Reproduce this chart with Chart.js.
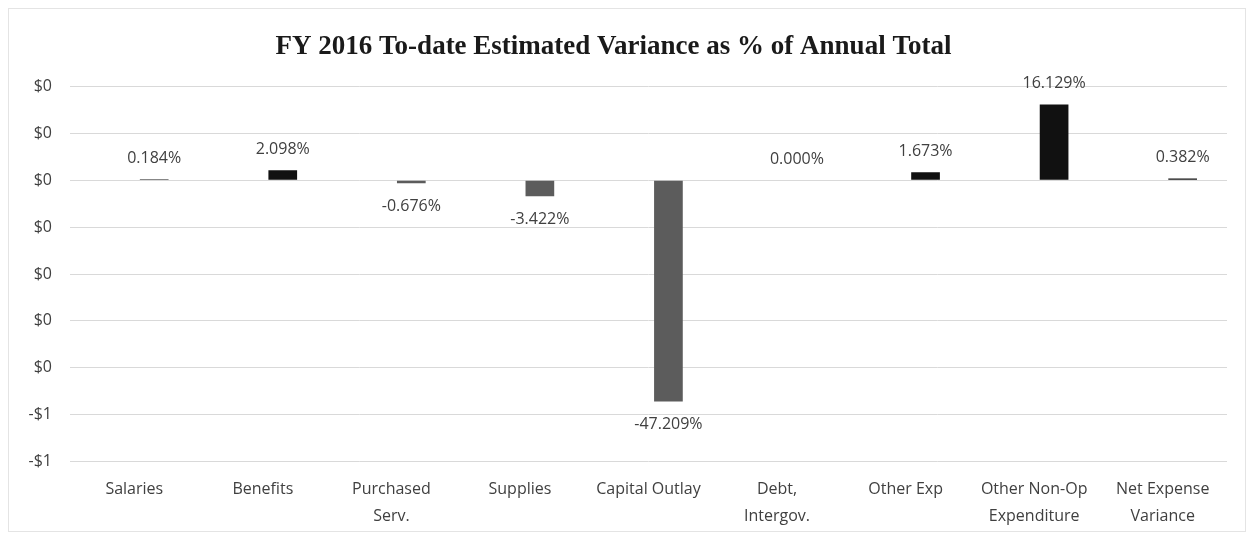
<!DOCTYPE html>
<html>
<head>
<meta charset="utf-8">
<script src="https://cdn.jsdelivr.net/npm/chart.js@4/dist/chart.umd.min.js"></script>
<style>
  html, body { margin: 0; padding: 0; background: #fff; }
  #wrap { position: absolute; left: 8px; top: 8px; width: 1238px; height: 524px; border: 1px solid #e4e4e4; box-sizing: border-box; }
  #box { position: absolute; left: 0; top: 0; width: 1249px; height: 536px; }
</style>
</head>
<body>
<div id="wrap"></div>
<div id="box"><canvas id="variance"></canvas></div>
<script>
const ctxVariance = document.getElementById('variance').getContext('2d')

const categories = [
  'Salaries', ['Benefits'], ['Purchased', 'Serv.'], 'Supplies', 'Capital Outlay',
  ['Debt,', 'Intergov.'], 'Other Exp', ['Other Non-Op', 'Expenditure'], ['Net Expense', 'Variance'],
]
// dollar series is empty in the source chart, only the % series has bars
const amountValues = [null, null, null, null, null, null, null, null, null]
const percentValues = [0.00184, 0.02098, -0.00676, -0.03422, -0.47209, 0.0, 0.01673, 0.16129, 0.00382]
const yTicks = [0.2, 0.1, 0, -0.1, -0.2, -0.3, -0.4, -0.5, -0.6]

const dollar = v => {
  const n = Math.round(Math.round(Math.abs(v) * 1000) / 1000)
  return n === 0 ? '$0' : (v < 0 ? '-$' : '$') + n
}

// writes the % value above / below each bar
const barLabels = {
  id: 'barLabels',
  afterDatasetsDraw(chart) {
    const c = chart.ctx
    const meta = chart.getDatasetMeta(1)
    c.save()
    c.font = '16px "Open Sans", sans-serif'
    c.fillStyle = '#404040'
    c.textAlign = 'center'
    c.textBaseline = 'middle'
    meta.data.forEach((bar, i) => {
      const v = percentValues[i]
      const y = v < 0 ? bar.y + 23 : bar.y - 21
      c.fillText((v * 100).toFixed(3) + '%', bar.x, y)
    })
    c.restore()
  },
}

const configVariance = {
  type: 'bar',
  data: {
    labels: categories,
    datasets: [
      {
        label: 'Variance $',
        data: amountValues,
        backgroundColor: '#000',
      },
      {
        label: 'Variance %',
        data: percentValues,
        backgroundColor: percentValues.map(v => (v < 0 ? '#5c5c5c' : '#111111')),
      },
    ],
  },
  options: {
    responsive: true,
    maintainAspectRatio: false,
    animation: false,
    categoryPercentage: 0.62,
    barPercentage: 0.72,
    layout: { padding: { top: 31, right: 22, bottom: 0, left: 0 } },
    plugins: {
      legend: { display: false },
      tooltip: { enabled: false },
      title: {
        display: true,
        text: 'FY 2016 To-date Estimated Variance as % of Annual Total',
        font: { family: '"Liberation Serif", serif', size: 27, weight: 'bold' },
        color: '#1a1a1a',
        padding: { top: 0, bottom: 23 },
      },
    },
    scales: {
      x: {
        grid: { display: false },
        border: { display: false },
        ticks: {
          color: '#404040',
          font: { family: '"Open Sans", sans-serif', size: 16, lineHeight: 1.7 },
          maxRotation: 0,
          autoSkip: false,
          padding: 6,
        },
      },
      y: {
        min: -0.6,
        max: 0.2,
        afterFit: scale => { scale.width = 70 },
        afterBuildTicks: scale => { scale.ticks = yTicks.map(v => ({ value: v })) },
        grid: { color: '#d9d9d9', drawTicks: false },
        border: { display: false },
        ticks: {
          color: '#404040',
          font: { family: '"Open Sans", sans-serif', size: 16 },
          padding: 18,
          callback: value => dollar(value),
        },
      },
    },
  },
  plugins: [barLabels],
}
const varianceChart = new Chart(ctxVariance, configVariance)
</script>
</body>
</html>
